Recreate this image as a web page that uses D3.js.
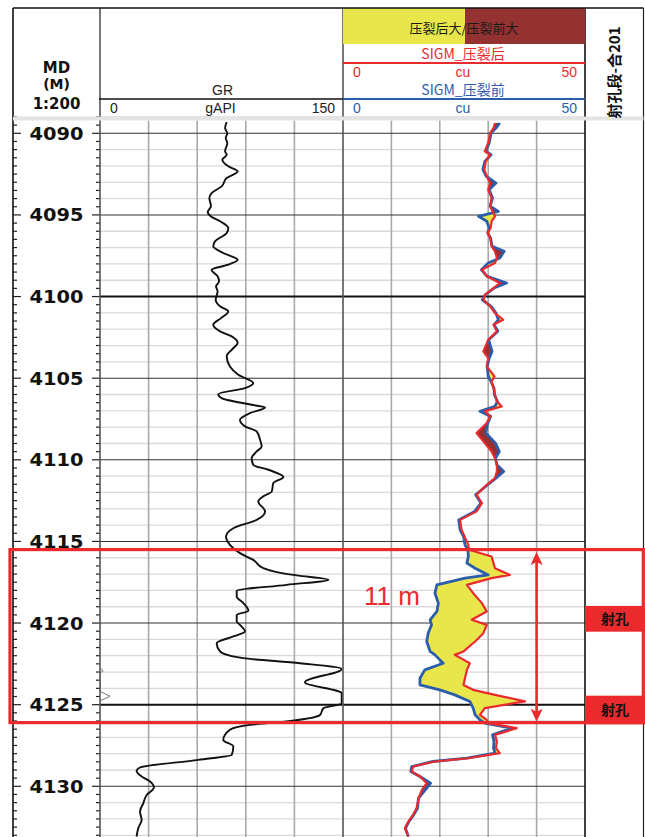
<!DOCTYPE html>
<html>
<head>
<meta charset="utf-8">
<script src="https://cdn.jsdelivr.net/npm/d3@7"></script>
<style>
  html, body { margin: 0; padding: 0; background: #fff; }
  svg { display: block; }
</style>
</head>
<body>
<script>
// ---------- Log data ----------
// GR curve (gAPI) against measured depth (m)
const grDepth = [4089.31,4089.68,4090.00,4090.29,4090.60,4091.10,4091.31,4091.62,4092.02,4092.33,4092.74,4093.25,4093.66,4093.96,4094.47,4094.82,4095.09,4095.39,4095.80,4096.11,4096.62,4096.92,4097.33,4097.75,4098.05,4098.36,4098.76,4099.07,4099.37,4099.68,4100.20,4100.60,4100.91,4101.32,4101.73,4102.13,4102.44,4102.85,4103.16,4103.66,4104.28,4104.79,4105.30,4105.61,4105.98,4106.22,4106.63,4106.79,4107.14,4107.55,4107.95,4108.26,4108.77,4109.18,4109.49,4109.90,4110.31,4110.61,4111.05,4111.43,4111.94,4112.24,4112.55,4113.16,4113.68,4114.19,4114.70,4115.21,4115.72,4116.13,4116.64,4116.88,4117.08,4117.35,4117.66,4118.03,4118.37,4118.78,4119.25,4119.50,4119.90,4120.11,4120.52,4120.82,4121.23,4121.74,4122.15,4122.46,4122.81,4123.62,4124.30,4124.91,4125.22,4125.63,4126.07,4126.24,4126.54,4127.16,4127.56,4128.08,4128.38,4128.85,4129.06,4129.40,4129.71,4130.07,4130.53,4131.04,4131.54,4132.06,4132.57,4133.08];
const grValue = [78.2,77.2,78.6,77.6,78.6,77.2,78.2,75.5,79.2,85.0,78.2,75.1,68.9,67.5,68.5,66.5,68.5,74.1,79.2,78.2,71.0,69.9,76.1,85.0,79.2,68.9,72.6,73.5,71.6,72.6,71.4,74.1,79.2,74.7,69.9,74.1,81.3,85.0,82.3,78.2,80.2,85.4,94.6,89.5,73.0,75.1,93.6,101.9,92.6,86.4,89.5,96.7,98.8,99.8,96.7,93.6,94.6,103.9,113.2,107.0,106.0,100.8,97.7,101.9,96.7,82.3,77.8,80.2,86.4,94.6,100.8,109.0,121.4,141.0,115.2,84.4,84.4,88.5,91.6,84.4,84.4,86.4,89.5,82.3,72.0,74.1,88.5,123.5,149.2,126.5,149.2,149.2,137.9,135.8,111.1,92.6,80.2,76.1,82.3,81.3,60.7,24.7,22.6,25.7,30.9,33.3,28.8,26.7,24.7,25.7,23.6,22.6];

// SIGM (cu) before and after fracturing
const sigDepth = [4089.37,4089.68,4089.98,4090.59,4091.10,4091.31,4091.72,4092.23,4092.63,4093.05,4093.46,4093.96,4094.47,4094.78,4095.09,4095.39,4095.80,4096.11,4096.41,4096.92,4097.23,4097.64,4097.95,4098.36,4098.76,4099.17,4099.48,4099.89,4100.20,4100.60,4101.01,4101.42,4101.73,4102.13,4102.65,4103.36,4103.77,4104.28,4104.89,4105.20,4105.61,4106.02,4106.42,4106.73,4107.03,4107.34,4107.75,4108.36,4108.98,4109.49,4109.90,4110.31,4110.71,4111.12,4111.53,4112.14,4112.65,4113.16,4113.68,4114.29,4114.69,4115.21,4115.51,4115.92,4116.33,4116.64,4117.05,4117.25,4117.66,4118.17,4118.78,4119.29,4119.80,4120.11,4120.62,4121.13,4121.74,4121.95,4122.46,4122.87,4123.38,4123.79,4124.09,4124.40,4124.80,4125.21,4125.62,4125.93,4126.13,4126.44,4126.85,4127.25,4127.66,4127.97,4128.28,4128.48,4128.79,4129.09,4129.40,4129.81,4130.22,4130.73,4131.34,4131.75,4132.16,4132.57,4133.08];
const sigAfter = [31.4,31.1,30.4,30.0,29.3,30.4,29.5,29.2,29.7,30.4,30.0,30.7,30.4,30.9,31.4,30.7,30.5,29.9,30.4,30.7,31.4,31.8,31.4,28.7,29.7,32.4,31.1,29.3,29.0,30.4,31.4,33.1,31.1,31.8,30.0,29.0,30.0,29.7,31.3,30.7,31.1,31.4,31.8,32.8,29.3,30.4,29.7,27.6,29.3,30.7,31.4,31.8,31.8,31.4,29.7,27.6,28.7,27.6,24.2,24.5,25.1,25.9,26.0,30.7,31.1,31.4,34.5,30.7,25.6,26.9,28.7,29.7,26.6,29.7,29.0,27.3,24.9,23.1,26.2,25.6,25.2,24.9,26.9,31.4,37.6,29.3,28.3,29.7,30.0,35.9,31.4,31.8,31.6,32.4,25.9,19.0,14.5,14.2,15.9,17.3,16.3,15.6,15.2,14.5,13.5,12.8,13.5];
const sigBefore = [32.4,31.6,30.6,30.2,29.5,30.6,29.3,28.9,29.6,31.6,30.2,30.9,30.4,32.1,28.0,29.7,30.2,29.9,30.5,30.8,33.3,32.4,30.0,28.6,29.8,33.8,31.2,29.4,28.8,30.6,31.6,32.1,31.2,32.0,30.1,30.8,30.2,29.8,30.0,30.6,31.2,31.3,31.9,31.4,28.3,30.5,29.9,29.5,31.5,32.3,31.5,31.8,33.2,31.6,29.9,27.4,28.5,27.2,23.9,24.2,24.9,25.2,25.8,25.9,25.6,27.3,30.0,25.2,19.4,19.0,19.7,19.4,18.0,18.3,17.6,17.3,18.0,19.0,20.7,16.9,15.9,15.9,20.0,23.1,26.2,26.9,27.3,28.3,29.3,34.9,30.9,31.2,31.1,31.4,25.6,18.6,14.2,14.0,15.9,18.1,17.0,15.6,15.4,14.6,13.6,12.9,13.5];

// Small spikes of an auxiliary curve at the GR track's left edge
const auxDepth = [4122.75, 4122.92, 4123.06, 4124.18, 4124.49, 4124.76];
const auxValue = [0, 2.0, 0, 0, 6.2, 0];

// Perforated intervals (m) and the evaluated zone
const perfTop = [4118.95, 4124.45];
const perfBottom = [4120.53, 4126.2];
const perfLabel = ["射孔", "射孔"];
const zoneTop = 4115.5, zoneBottom = 4126.1;

// Scales of the curve tracks and their grid divisions
const grRange = [0, 150];
const grDivisions = [30, 60, 90, 120];
const sigRange = [0, 50];
const sigDivisions = [10, 20, 30, 40];
const depthLabelStep = 5;

// ---------- Layout ----------
const W = 645, H = 837;
const xDepthL = 13, xGR = 100, xSig = 343, xRight = 585, xEnd = 643.5;
const headTop = 8, headBottom = 116.5, dataTop = 120.5;

const svg = d3.select("body").append("svg").attr("width", W).attr("height", H);

const y = d3.scaleLinear().domain([4090, 4130]).range([133.3, 786.3]);
const grX = d3.scaleLinear().domain(grRange).range([xGR, xSig]);
const sigX = d3.scaleLinear().domain(sigRange).range([xSig, xRight]);

const RED = "#ea2a2d", BLUE = "#2c5dab", YEL = "#e8e64a", DRED = "#97302f";
const SANS = "'Liberation Sans', Arial, sans-serif";
const CJK = "'Noto Sans CJK SC', 'Liberation Sans', sans-serif";
const BOLD = "'DejaVu Sans', sans-serif";

const defs = svg.append("defs");
defs.append("clipPath").attr("id", "dataClip").append("rect")
  .attr("x", xGR).attr("y", dataTop).attr("width", xRight - xGR).attr("height", H - dataTop);

// ---------- Grid in the curve tracks ----------
const grid = svg.append("g");
const depths = d3.range(4089, 4134);
// minor (1 m) lines first, then divisions, then 5 m and 25 m lines
depths.filter(d => d % 5 !== 0).forEach(d => {
  grid.append("line").attr("x1", xGR).attr("x2", xRight).attr("y1", y(d)).attr("y2", y(d))
    .attr("stroke", "#dadada").attr("stroke-width", 1.3);
});
grDivisions.forEach(v => {
  grid.append("line").attr("x1", grX(v)).attr("x2", grX(v)).attr("y1", dataTop).attr("y2", H)
    .attr("stroke", "#a9a9a9").attr("stroke-width", 1.6);
});
sigDivisions.forEach(v => {
  grid.append("line").attr("x1", sigX(v)).attr("x2", sigX(v)).attr("y1", dataTop).attr("y2", H)
    .attr("stroke", "#a9a9a9").attr("stroke-width", 1.6);
});
depths.filter(d => d % 5 === 0).forEach(d => {
  const heavy = d % 25 === 0;
  grid.append("line").attr("x1", xGR).attr("x2", xRight).attr("y1", y(d)).attr("y2", y(d))
    .attr("stroke", heavy ? "#111" : "#333").attr("stroke-width", heavy ? 2 : 1.1);
});

// ---------- Depth track ----------
const depthG = svg.append("g");
d3.range(4089, 4133.5, 0.5).forEach(d => {
  const major = d % 5 === 0;
  const len = major ? 8 : 4;
  depthG.append("line").attr("x1", xDepthL).attr("x2", xDepthL + len).attr("y1", y(d)).attr("y2", y(d))
    .attr("stroke", "#222").attr("stroke-width", 1.2);
  depthG.append("line").attr("x1", xGR - len).attr("x2", xGR).attr("y1", y(d)).attr("y2", y(d))
    .attr("stroke", "#222").attr("stroke-width", 1.2);
});
d3.range(4090, 4134, depthLabelStep).forEach(d => {
  depthG.append("text").attr("x", 56.5).attr("y", y(d) + 6.5)
    .attr("text-anchor", "middle").attr("font-family", BOLD).attr("font-weight", "bold")
    .attr("font-size", 18).attr("textLength", 54).attr("lengthAdjust", "spacingAndGlyphs")
    .attr("fill", "#111").text(d);
});

// ---------- GR track ----------
const curves = svg.append("g").attr("clip-path", "url(#dataClip)");
const auxLine = d3.line().x((d, i) => grX(auxValue[i])).y(d => y(d));
curves.append("path").attr("d", auxLine(auxDepth)).attr("fill", "none")
  .attr("stroke", "#777").attr("stroke-width", 1);

const grLine = d3.line().x((d, i) => grX(grValue[i])).y(d => y(d)).curve(d3.curveMonotoneY);
curves.append("path").attr("d", grLine(grDepth)).attr("fill", "none")
  .attr("stroke", "#111").attr("stroke-width", 1.9).attr("stroke-linejoin", "round");

// ---------- SIGM track: crossover fills ----------
const leftOf = arr => d3.area().y(d => y(d)).x0(xSig).x1((d, i) => sigX(arr[i]));
const rightOf = arr => d3.area().y(d => y(d)).x0((d, i) => sigX(arr[i])).x1(xRight);

defs.append("clipPath").attr("id", "leftOfAfter").append("path").attr("d", leftOf(sigAfter)(sigDepth));
defs.append("clipPath").attr("id", "leftOfBefore").append("path").attr("d", leftOf(sigBefore)(sigDepth));

// after > before: yellow
curves.append("g").attr("clip-path", "url(#leftOfAfter)")
  .append("path").attr("d", rightOf(sigBefore)(sigDepth)).attr("fill", YEL);
// before > after: dark red
curves.append("g").attr("clip-path", "url(#leftOfBefore)")
  .append("path").attr("d", rightOf(sigAfter)(sigDepth)).attr("fill", DRED);

const sigLine = arr => d3.line().x((d, i) => sigX(arr[i])).y(d => y(d));
curves.append("path").attr("d", sigLine(sigBefore)(sigDepth)).attr("fill", "none")
  .attr("stroke", BLUE).attr("stroke-width", 2.8).attr("stroke-linejoin", "round");
curves.append("path").attr("d", sigLine(sigAfter)(sigDepth)).attr("fill", "none")
  .attr("stroke", RED).attr("stroke-width", 2.2).attr("stroke-linejoin", "round");

// ---------- Track borders ----------
const borders = svg.append("g");
[[xDepthL, "#111", 1.6], [xGR, "#555", 1.6], [xSig, "#555", 1.6], [xRight, "#111", 1.6], [xEnd, "#222", 1.2]]
  .forEach(([x, c, w]) => {
    borders.append("line").attr("x1", x).attr("x2", x).attr("y1", headTop).attr("y2", H)
      .attr("stroke", c).attr("stroke-width", w);
  });

// ---------- Header ----------
const head = svg.append("g");
head.append("rect").attr("x", xSig).attr("y", headTop).attr("width", 122).attr("height", 36).attr("fill", YEL);
head.append("rect").attr("x", xSig + 122).attr("y", headTop).attr("width", xRight - xSig - 122).attr("height", 36).attr("fill", "#943131");
head.append("line").attr("x1", xDepthL).attr("x2", xEnd).attr("y1", headTop).attr("y2", headTop)
  .attr("stroke", "#111").attr("stroke-width", 1.6);
head.append("rect").attr("x", xDepthL).attr("y", headBottom).attr("width", xEnd - xDepthL).attr("height", 4)
  .attr("fill", "#e4e4e4");

// depth column
[["MD", 73, 15], ["(M)", 89, 14], ["1:200", 108.5, 15]].forEach(([t, yy, fs]) => {
  head.append("text").attr("x", 56.5).attr("y", yy).attr("text-anchor", "middle")
    .attr("font-family", BOLD).attr("font-weight", "bold").attr("font-size", fs).attr("fill", "#111").text(t);
});

// GR column
head.append("line").attr("x1", xGR - 1).attr("x2", xSig).attr("y1", 99).attr("y2", 99)
  .attr("stroke", "#111").attr("stroke-width", 1.6);
head.append("text").attr("x", (xGR + xSig) / 2 + 1).attr("y", 95).attr("text-anchor", "middle")
  .attr("font-family", SANS).attr("font-size", 14).attr("fill", "#222").text("GR");
const scaleRow = (g, yy, color, lo, unit, hi, x0, x1) => {
  g.append("text").attr("x", x0 + 10).attr("y", yy).attr("font-family", SANS).attr("font-size", 14).attr("fill", color).text(lo);
  g.append("text").attr("x", (x0 + x1) / 2 - 1).attr("y", yy).attr("text-anchor", "middle").attr("font-family", SANS).attr("font-size", 14).attr("fill", color).text(unit);
  g.append("text").attr("x", x1 - 8).attr("y", yy).attr("text-anchor", "end").attr("font-family", SANS).attr("font-size", 14).attr("fill", color).text(hi);
};
scaleRow(head, 112.5, "#222", grRange[0], "gAPI", grRange[1], xGR, xSig);

// SIGM column
head.append("text").attr("x", 464).attr("y", 33).attr("text-anchor", "middle")
  .attr("font-family", CJK).attr("font-size", 13).attr("fill", "#1a1a1a").text("压裂后大/压裂前大");
head.append("text").attr("x", 463).attr("y", 58.5).attr("text-anchor", "middle")
  .attr("font-family", CJK).attr("font-size", 14).attr("fill", RED).text("SIGM_压裂后");
head.append("line").attr("x1", xSig).attr("x2", xRight).attr("y1", 63).attr("y2", 63)
  .attr("stroke", RED).attr("stroke-width", 2);
scaleRow(head, 77, RED, sigRange[0], "cu", sigRange[1], xSig, xRight);
head.append("text").attr("x", 463).attr("y", 95).attr("text-anchor", "middle")
  .attr("font-family", CJK).attr("font-size", 14).attr("fill", BLUE).text("SIGM_压裂前");
head.append("line").attr("x1", xSig).attr("x2", xRight).attr("y1", 99).attr("y2", 99)
  .attr("stroke", BLUE).attr("stroke-width", 2);
scaleRow(head, 112.5, BLUE, sigRange[0], "cu", sigRange[1], xSig, xRight);

// perforation column title
head.append("text").attr("transform", "translate(620,72.5) rotate(-90)").attr("text-anchor", "middle")
  .attr("font-family", CJK).attr("font-weight", "bold").attr("font-size", 15).attr("fill", "#111")
  .text("射孔段-合201");

// ---------- Perforation intervals ----------
const perf = svg.append("g");
perfTop.forEach((t, i) => {
  perf.append("rect").attr("x", xRight).attr("y", y(t)).attr("width", W - xRight)
    .attr("height", y(perfBottom[i]) - y(t)).attr("fill", RED);
  perf.append("text").attr("x", (xRight + W) / 2).attr("y", (y(t) + y(perfBottom[i])) / 2 + 5)
    .attr("text-anchor", "middle").attr("font-family", CJK).attr("font-weight", "bold")
    .attr("font-size", 14).attr("fill", "#111").text(perfLabel[i]);
});

// ---------- Evaluated zone box and thickness arrow ----------
const zone = svg.append("g");
zone.append("rect").attr("x", 10).attr("y", y(zoneTop)).attr("width", 633.3)
  .attr("height", y(zoneBottom) - y(zoneTop)).attr("fill", "none")
  .attr("stroke", RED).attr("stroke-width", 3.2);
const ax = sigX(40);
const yt = y(zoneTop) + 2.5, yb = y(zoneBottom) - 1;
zone.append("line").attr("x1", ax).attr("x2", ax).attr("y1", yt + 8).attr("y2", yb - 8)
  .attr("stroke", RED).attr("stroke-width", 2.6);
zone.append("path").attr("d", `M${ax},${yt} L${ax - 6},${yt + 13} L${ax},${yt + 10} L${ax + 6},${yt + 13} Z`).attr("fill", RED);
zone.append("path").attr("d", `M${ax},${yb} L${ax - 6},${yb - 13} L${ax},${yb - 10} L${ax + 6},${yb - 13} Z`).attr("fill", RED);
zone.append("text").attr("x", 364).attr("y", 605).attr("font-family", SANS).attr("font-size", 26)
  .attr("fill", RED).text(`${Math.round(zoneBottom - zoneTop)} m`);
</script>
</body>
</html>
